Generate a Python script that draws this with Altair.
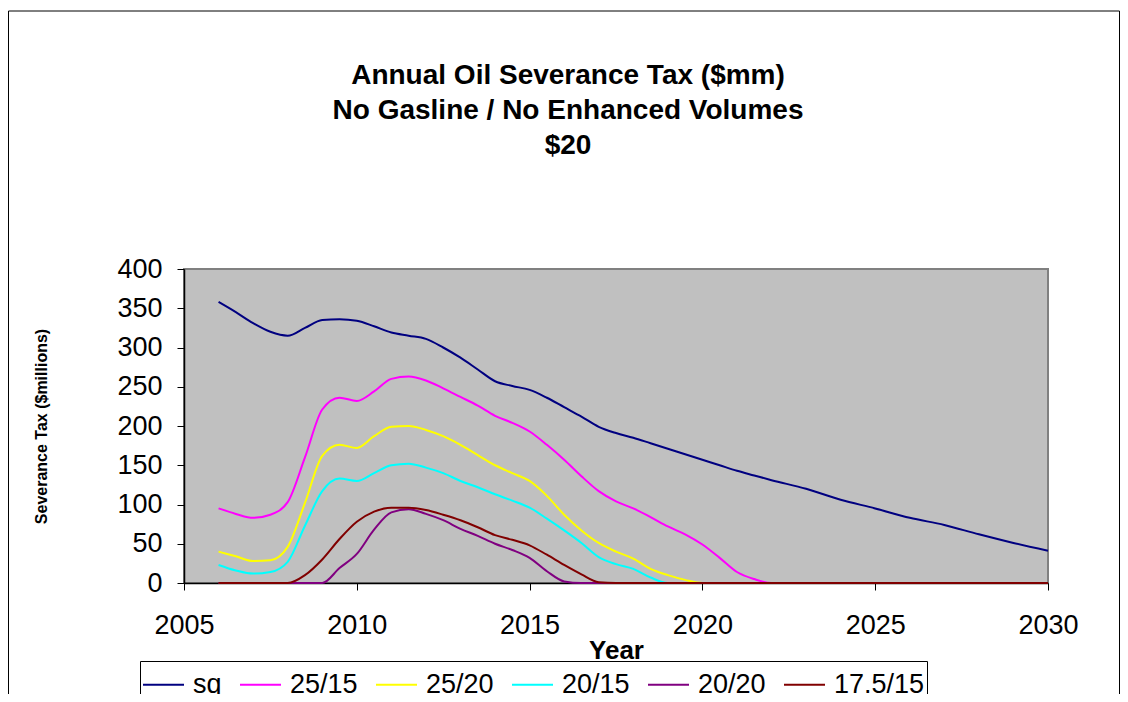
import altair as alt
import pandas as pd

# ---------------- data ----------------
years = [2006.0, 2006.5, 2007.0, 2007.5, 2008.0, 2008.5, 2009.0, 2009.5,
         2010.0, 2010.5, 2011.0, 2011.5, 2012.0, 2012.5, 2013.0, 2013.5,
         2014.0, 2014.5, 2015.0, 2015.5, 2016.0, 2016.5, 2017.0, 2017.5,
         2018.0, 2018.5, 2019.0, 2019.5, 2020.0, 2020.5, 2021.0, 2021.5,
         2022.0, 2023.0, 2024.0, 2025.0, 2026.0, 2027.0, 2028.0, 2029.0, 2030.0]

sq = [358, 345, 331, 320, 315, 325, 335, 336,
      334, 327, 319, 315, 311, 300, 287, 272,
      257, 251, 246, 236, 224, 212, 199, 191,
      185, 178, 171, 164, 157, 150, 143, 137,
      131, 120, 106, 95, 83, 74, 62, 51, 41]

s25_15 = [95, 88, 83, 87, 103, 160, 221, 236,
          232, 244, 260, 263, 258, 248, 237, 226,
          213, 204, 193, 176, 157, 136, 117, 104,
          95, 84, 72, 62, 49, 32, 14, 5,
          0, 0, 0, 0, 0, 0, 0, 0, 0]

s25_20 = [40, 34, 28, 29, 46, 102, 162, 176,
          172, 187, 199, 200, 195, 187, 176, 163,
          150, 140, 130, 111, 87, 67, 51, 40,
          31, 18, 10, 4, 0, 0, 0, 0,
          0, 0, 0, 0, 0, 0, 0, 0, 0]

s20_15 = [23, 16, 12, 14, 27, 73, 117, 133,
          130, 140, 150, 152, 147, 140, 130, 122,
          113, 105, 96, 82, 67, 51, 33, 24,
          18, 7, 0, 0, 0, 0, 0, 0,
          0, 0, 0, 0, 0, 0, 0, 0, 0]

s20_20 = [0, 0, 0, 0, 0, 0, 0, 19,
          37, 68, 90, 94, 88, 80, 69, 60,
          50, 42, 32, 15, 2, 0, 0, 0,
          0, 0, 0, 0, 0, 0, 0, 0,
          0, 0, 0, 0, 0, 0, 0, 0, 0]

s17_15 = [0, 0, 0, 0, 0, 10, 30, 56,
          78, 91, 96, 96, 93, 87, 80, 71,
          61, 55, 48, 36, 23, 11, 1, 0,
          0, 0, 0, 0, 0, 0, 0, 0,
          0, 0, 0, 0, 0, 0, 0, 0, 0]

series_names = ["sq", "25/15", "25/20", "20/15", "20/20", "17.5/15"]
series_values = [sq, s25_15, s25_20, s20_15, s20_20, s17_15]
series_colors = ["#000080", "#FF00FF", "#FFFF00", "#00FFFF", "#800080", "#800000"]

x_ticks = [2005, 2010, 2015, 2020, 2025, 2030]
y_ticks = [0, 50, 100, 150, 200, 250, 300, 350, 400]

title_lines = ["Annual Oil Severance Tax ($mm)",
               "No Gasline / No Enhanced Volumes",
               "$20"]

rows = []
for name, vals in zip(series_names, series_values):
    for yr, v in zip(years, vals):
        rows.append({"Year": yr, "Tax": v, "Scenario": name})
df = pd.DataFrame(rows)

# ---------------- layout ----------------
FONT = "Liberation Sans"
W, H = 864, 314
PAD = {"left": 176, "top": 261, "right": 72, "bottom": 111}

x_enc = alt.X(
    "Year:Q",
    scale=alt.Scale(domain=[2005, 2030], nice=False, zero=False),
    axis=alt.Axis(
        values=x_ticks, format="d", grid=False, title="Year", labelFlush=False,
        labelFontSize=27, labelFont=FONT, labelColor="black", labelPadding=22,
        tickSize=7, tickColor="black", domainColor="black", domainWidth=1.5,
        titleFont=FONT, titleFontSize=26, titleFontWeight="bold", titleColor="black",
        titleX=W / 2, titleY=75, titleBaseline="alphabetic", titleAlign="center",
    ),
)
y_enc = alt.Y(
    "Tax:Q",
    scale=alt.Scale(domain=[0, 400], nice=False),
    axis=alt.Axis(
        values=y_ticks, grid=False, title="Severance Tax ($millions)", labelFlush=False,
        labelFontSize=27, labelFont=FONT, labelColor="black", labelPadding=15,
        tickSize=7, tickColor="black", domainColor="black", domainWidth=1.5,
        titleFont=FONT, titleFontSize=16, titleFontWeight="bold", titleColor="black",
        titleAngle=270, titleX=-138, titleY=H / 2, titleAlign="center",
        titleBaseline="alphabetic",
    ),
)
color_enc = alt.Color(
    "Scenario:N",
    scale=alt.Scale(domain=series_names, range=series_colors),
    legend=alt.Legend(
        title=None, orient="none", legendX=-44, legendY=392,
        direction="horizontal", columns=6,
        symbolType="stroke", symbolSize=1681, symbolStrokeWidth=2,
        labelFont=FONT, labelFontSize=27, labelColor="black", labelOffset=8,
        columnPadding=14, padding=2, strokeColor="black", fillColor="white",
    ),
)

layers = []
for name in series_names:
    layers.append(
        alt.Chart(df[df["Scenario"] == name])
        .mark_line(strokeWidth=2, interpolate="monotone")
        .encode(x=x_enc, y=y_enc, color=color_enc)
    )

deco = pd.DataFrame({"t": ["\n".join(title_lines)]})
title_mark = alt.Chart(deco).mark_text(
    font=FONT, fontSize=28, fontWeight="bold", color="black",
    align="center", baseline="alphabetic", lineBreak="\n", lineHeight=35,
).encode(x=alt.value(384), y=alt.value(-185), text="t:N")

border = alt.Chart(deco).mark_rect(filled=False, stroke="black", strokeWidth=1).encode(
    x=alt.value(-175.5), x2=alt.value(935.5), y=alt.value(-258), y2=alt.value(600)
)

chart = (
    alt.layer(border, *layers, title_mark)
    .properties(width=W, height=H, autosize=alt.AutoSizeParams(type="none"), padding=PAD,
                background="white")
    .configure_view(fill="#C0C0C0", stroke="#808080", strokeWidth=2)
)

chart.save("out.html", embed_options={"renderer": "svg", "actions": False})
